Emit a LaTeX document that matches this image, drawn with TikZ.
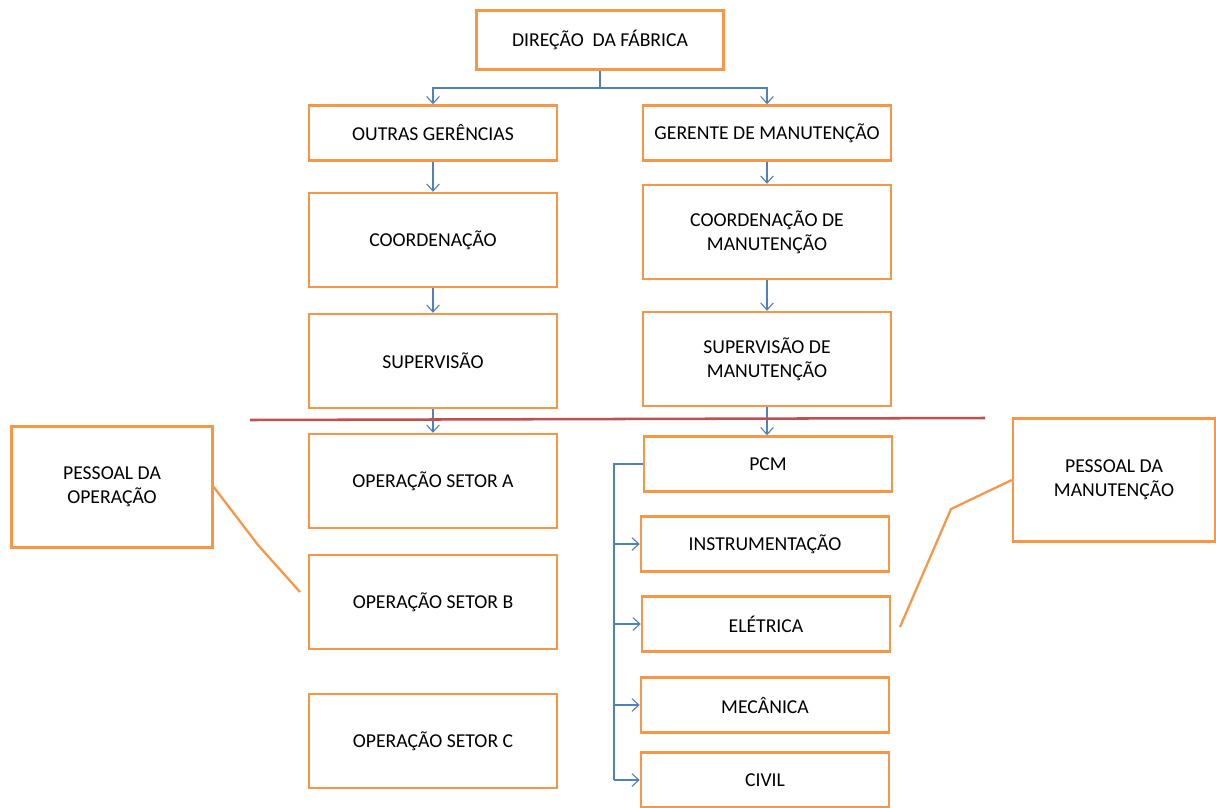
\documentclass[tikz,border=0pt]{standalone}
\usepackage{fontspec}
\setmainfont{Carlito}
\usepackage{xcolor}
\usetikzlibrary{arrows.meta, calc, positioning}
\definecolor{laranja}{HTML}{F79646}
\definecolor{azul}{HTML}{4F81BD}
\definecolor{vermelho}{HTML}{C0504D}
\tikzset{
    caixa/.style={draw=laranja, line width=1.7pt, fill=white, align=center, inner sep=0pt,
        minimum width=6.2cm, font=\fontsize{14}{17}\selectfont},
    baixa/.style={minimum height=1.375cm},
    alta/.style={minimum height=2.35cm},
    fio/.style={draw=azul, line width=0.9pt},
    seta/.style={fio, -{Straight Barb[length=5pt,width=9pt,line width=0.8pt]}},
    chamada/.style={draw=laranja, line width=1.6pt},
    corte/.style={draw=vermelho, line width=1.8pt}
}

\begin{document}
\begin{tikzpicture}[x=0.025cm, y=-0.025cm]
    \useasboundingbox (0,0) rectangle (1216,808);
    % linha de comando
    \node[caixa, minimum width=6.175cm, minimum height=1.475cm] (direcao) at (600,40) {DIREÇÃO\ \ DA FÁBRICA};
    \node[caixa, baixa] (outras) at (433,133) {OUTRAS GERÊNCIAS};
    \node[caixa, baixa] (gerente) at (767,133) {GERENTE DE MANUTENÇÃO};
    \node[caixa, alta] (coord) at (433,240) {COORDENAÇÃO};
    \node[caixa, alta] (coordm) at (767,232) {COORDENAÇÃO DE\\MANUTENÇÃO};
    \node[caixa, alta] (superv) at (433,361) {SUPERVISÃO};
    \node[caixa, alta] (supervm) at (767,359) {SUPERVISÃO DE\\MANUTENÇÃO};
    % operacao
    \node[caixa, alta] (setora) at (433,481) {OPERAÇÃO SETOR A};
    \node[caixa, alta] (setorb) at (433,602) {OPERAÇÃO SETOR B};
    \node[caixa, alta] (setorc) at (433,741) {OPERAÇÃO SETOR C};
    % manutencao
    \node[caixa, baixa] (pcm) at (768,464) {PCM};
    \node[caixa, baixa] (instr) at (765,544) {INSTRUMENTAÇÃO};
    \node[caixa, baixa] (eletrica) at (766,624) {ELÉTRICA};
    \node[caixa, baixa] (mecanica) at (765,705) {MECÂNICA};
    \node[caixa, baixa] (civil) at (765,780) {CIVIL};
    % pessoal
    \node[caixa, minimum width=5.025cm, minimum height=3.025cm] (popera) at (112,487) {PESSOAL DA\\OPERAÇÃO};
    \node[caixa, minimum width=5.05cm, minimum height=3.075cm] (pmanut) at (1114,480) {PESSOAL DA\\MANUTENÇÃO};

    \coordinate (ramo) at (600,88);
    \coordinate (barra) at (614,466);
    \draw[fio] (direcao.south) -- (ramo);
    \draw[seta] (ramo) -| (outras.north);
    \draw[seta] (ramo) -| (gerente.north);
    \draw[seta] (outras) -- (coord);
    \draw[seta] (coord) -- (superv);
    \draw[seta] (superv) -- (setora);
    \draw[seta] (gerente) -- (coordm);
    \draw[seta] (coordm) -- (supervm);
    \draw[seta] (supervm) -- (supervm |- pcm.north);
    \draw[fio] (pcm.west) -- (pcm.west -| barra) -- (civil.west -| barra);
    \foreach \n in {instr, eletrica, mecanica, civil}
        \draw[seta] (\n.west -| barra) -- (\n.west);

    % divisao
    \coordinate (corteE) at (250,420);
    \coordinate (corteD) at (985,418);
    \draw[corte] (corteE) -- (corteD);

    % chamadas
    \coordinate (dobraO) at (258,545);
    \coordinate (pontaO) at (300,592);
    \coordinate (dobraM) at (951,509);
    \coordinate (pontaM) at (900,627);
    \draw[chamada] (popera.east) -- (dobraO) -- (pontaO);
    \draw[chamada] (pmanut.west) -- (dobraM) -- (pontaM);
\end{tikzpicture}
\end{document}
